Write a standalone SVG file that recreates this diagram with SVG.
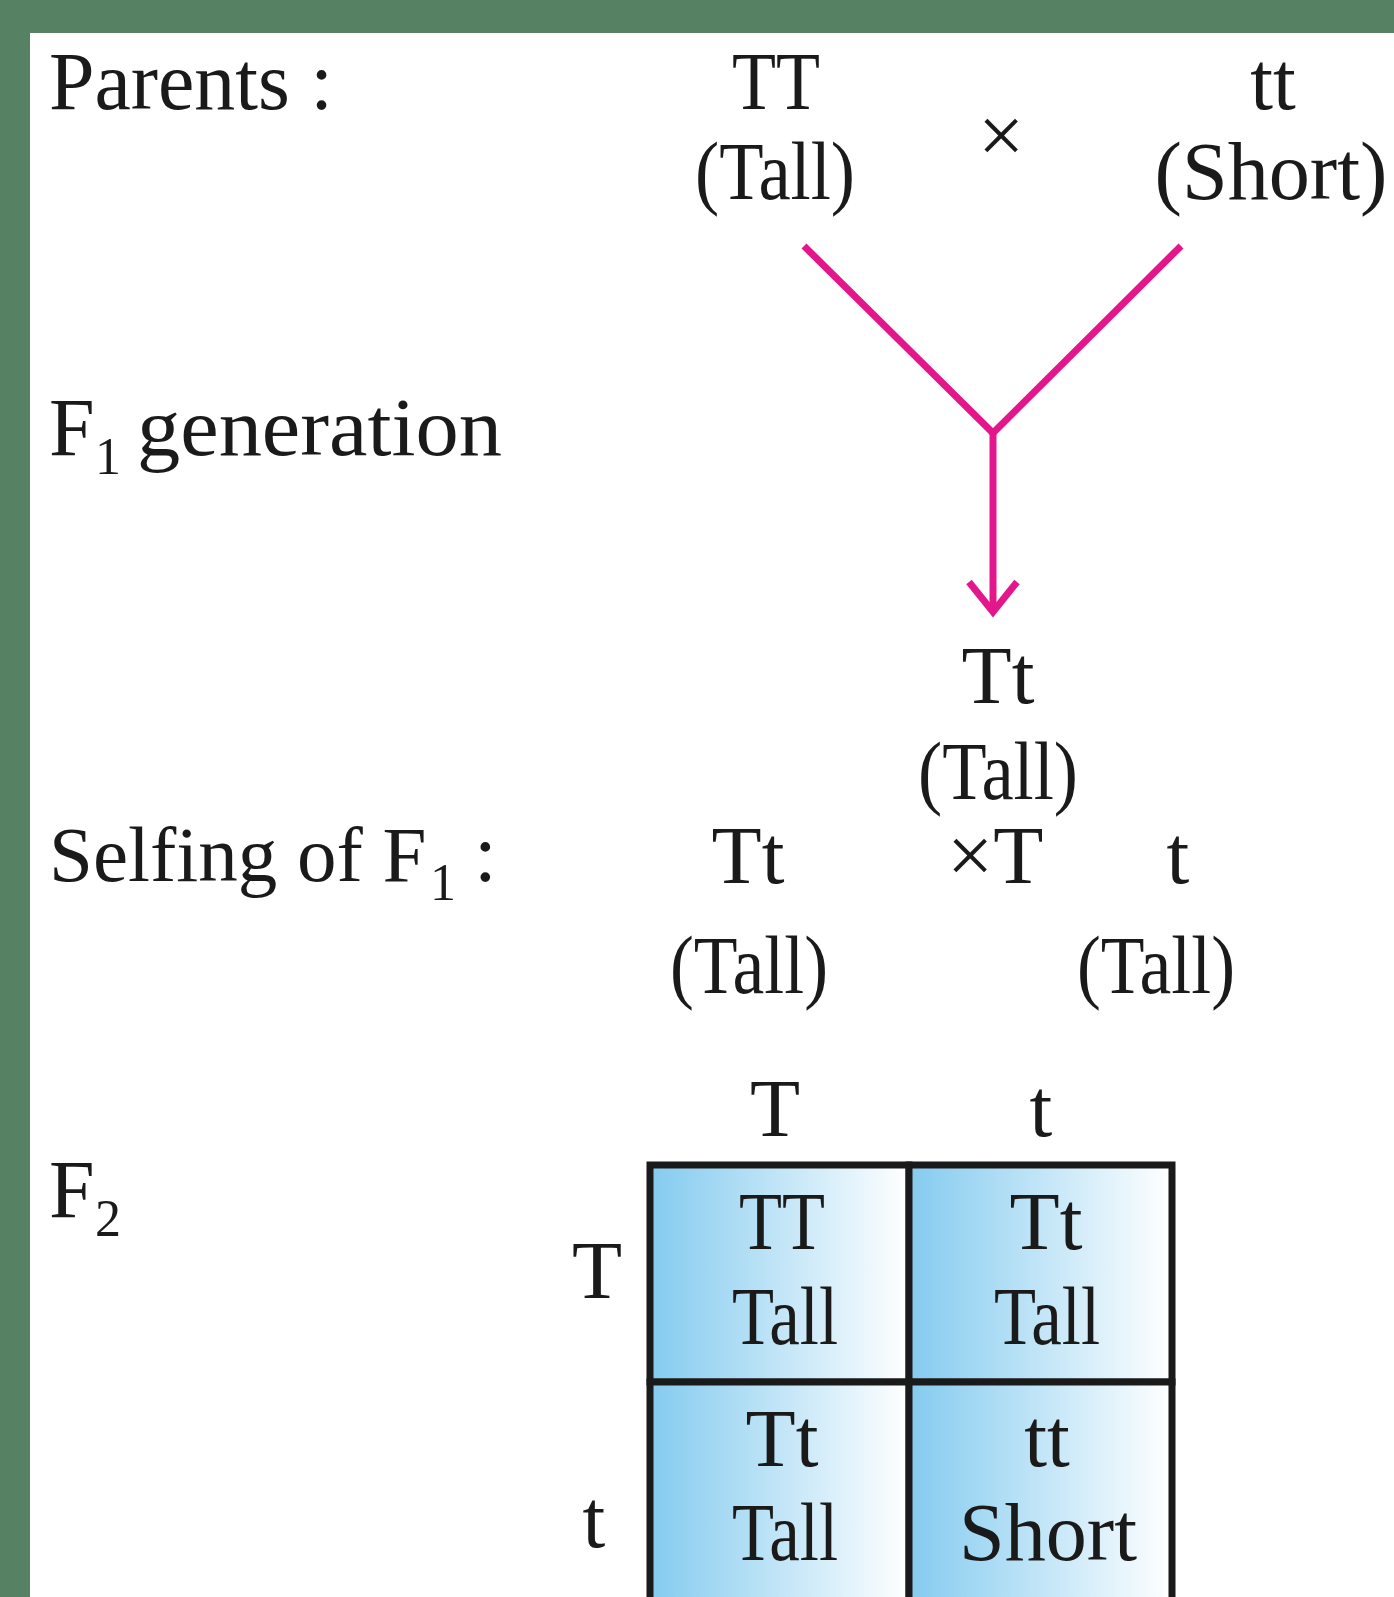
<svg xmlns="http://www.w3.org/2000/svg" width="1394" height="1597" viewBox="0 0 1394 1597">
<defs>
<style>
text{font-family:"Liberation Serif","Times New Roman",serif;fill:#1a1a1a;font-size:82px}
.m{text-anchor:middle}
.sub{font-size:52px}
.conn{stroke:#e3178b;stroke-width:7;fill:none;stroke-linecap:butt;stroke-linejoin:miter}
.cell{stroke:#1a1a1a;stroke-width:7;fill:url(#g)}
</style>
<linearGradient id="g" x1="0" y1="0" x2="1" y2="0">
<stop offset="0" stop-color="#84cbef"/>
<stop offset="1" stop-color="#ffffff"/>
</linearGradient>
</defs>
<rect x="0" y="0" width="1394" height="1597" fill="#578163"/>
<rect x="30" y="33" width="1364" height="1564" fill="#ffffff"/>

<g id="labels">
<text x="49" y="109" textLength="284" lengthAdjust="spacingAndGlyphs">Parents :</text>
<text x="49" y="455">F</text><text x="95" y="474" class="sub">1</text><text x="137" y="455" textLength="365" lengthAdjust="spacingAndGlyphs">generation</text>
<text x="49" y="881" style="font-size:79px">Selfing of F</text><text x="430" y="900" class="sub">1</text><text x="474" y="881">:</text>
<text x="49" y="1217">F</text><text x="95" y="1236" class="sub">2</text>
</g>

<g id="parent-TT">
<text x="776" y="109" class="m" textLength="88" lengthAdjust="spacingAndGlyphs">TT</text>
<text x="775" y="199" class="m" textLength="160" lengthAdjust="spacingAndGlyphs">(Tall)</text>
</g>
<g id="cross-sign"><text x="1001" y="163" class="m">×</text></g>
<g id="parent-tt">
<text x="1273" y="109" class="m">tt</text>
<text x="1271" y="199" class="m" textLength="233" lengthAdjust="spacingAndGlyphs">(Short)</text>
</g>

<g id="f1-Tt">
<text x="998" y="703" class="m">Tt</text>
<text x="998" y="799" class="m" textLength="160" lengthAdjust="spacingAndGlyphs">(Tall)</text>
</g>

<g id="selfing">
<text x="748" y="883" class="m">Tt</text>
<text x="749" y="993" class="m" textLength="158" lengthAdjust="spacingAndGlyphs">(Tall)</text>
<text x="947" y="883">×T</text>
<text x="1178" y="883" class="m">t</text>
<text x="1156" y="993" class="m" textLength="158" lengthAdjust="spacingAndGlyphs">(Tall)</text>
</g>

<g id="connectors">
<path class="conn" d="M804,246 L993,433 L1181,246"/>
<path class="conn" d="M993,431 L993,612"/>
<path class="conn" d="M969,582 L993,612 L1017,582"/>
</g>

<g id="punnett">
<text x="775" y="1136" class="m">T</text>
<text x="1041" y="1136" class="m">t</text>
<text x="597" y="1298" class="m">T</text>
<text x="594" y="1547" class="m">t</text>
<rect class="cell" x="650" y="1165" width="259" height="217"/>
<rect class="cell" x="909" y="1165" width="263" height="217"/>
<rect class="cell" x="650" y="1382" width="259" height="230"/>
<rect class="cell" x="909" y="1382" width="263" height="230"/>
</g>
<g id="cell-TT">
<text x="782" y="1249" class="m" textLength="86" lengthAdjust="spacingAndGlyphs">TT</text>
<text x="785" y="1344" class="m" textLength="106" lengthAdjust="spacingAndGlyphs">Tall</text>
</g>
<g id="cell-Tt1">
<text x="1046" y="1249" class="m">Tt</text>
<text x="1047" y="1344" class="m" textLength="106" lengthAdjust="spacingAndGlyphs">Tall</text>
</g>
<g id="cell-Tt2">
<text x="782" y="1466" class="m">Tt</text>
<text x="785" y="1560" class="m" textLength="106" lengthAdjust="spacingAndGlyphs">Tall</text>
</g>
<g id="cell-tt">
<text x="1047" y="1466" class="m">tt</text>
<text x="1048" y="1560" class="m" textLength="178" lengthAdjust="spacingAndGlyphs">Short</text>
</g>
</svg>
